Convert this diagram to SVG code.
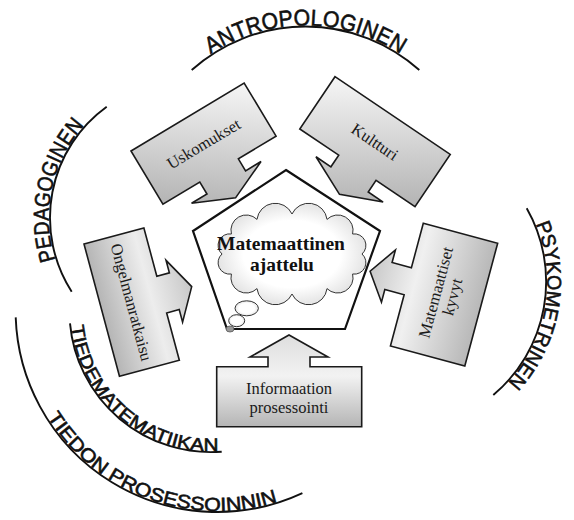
<svg xmlns="http://www.w3.org/2000/svg" xmlns:xlink="http://www.w3.org/1999/xlink" width="574" height="520" viewBox="0 0 574 520">
<defs>
<style>
.shape{stroke:#1a1a1a;stroke-width:1.6;stroke-linejoin:miter}
.lbl{font-family:"Liberation Serif","Times New Roman",serif;font-size:16.5px;fill:#1a1a1a;text-anchor:middle}
.arc{fill:none;stroke:#111;stroke-width:1.9}
.arctxt{font-family:"Liberation Sans",Arial,sans-serif;fill:#111;stroke:#111;stroke-width:0.6}
.bub{fill:url(#gC);stroke:#333;stroke-width:1}
.ctr{font-family:"Liberation Serif","Times New Roman",serif;font-weight:bold;font-size:19.5px;text-anchor:middle;fill:#111}
</style>
<linearGradient id="gU" x1="1" y1="0" x2="0" y2="1"><stop offset="0" stop-color="#f6f6f6"/><stop offset="1" stop-color="#a6a6a6"/></linearGradient>
<linearGradient id="gK" x1="0" y1="0" x2="1" y2="1"><stop offset="0" stop-color="#f6f6f6"/><stop offset="1" stop-color="#a6a6a6"/></linearGradient>
<linearGradient id="gO" x1="0" y1="0" x2="1" y2="0"><stop offset="0" stop-color="#b5b5b5"/><stop offset="0.55" stop-color="#ededed"/><stop offset="1" stop-color="#c8c8c8"/></linearGradient>
<linearGradient id="gM" x1="0" y1="0" x2="1" y2="0"><stop offset="0" stop-color="#c8c8c8"/><stop offset="0.4" stop-color="#f0f0f0"/><stop offset="1" stop-color="#b8b8b8"/></linearGradient>
<linearGradient id="gI" x1="0" y1="0" x2="0" y2="1"><stop offset="0" stop-color="#dedede"/><stop offset="0.45" stop-color="#f2f2f2"/><stop offset="1" stop-color="#b5b5b5"/></linearGradient>
<radialGradient id="gC" cx="0.5" cy="0.5" r="0.6"><stop offset="0.55" stop-color="#ffffff"/><stop offset="1" stop-color="#d6d6d6"/></radialGradient>
</defs>

<g id="arcs">
<path id="pAntro" class="arc" d="M191.7,70 A170.6,170.6 0 0 1 419.3,70"/>
<path id="pPed" class="arc" d="M71.7,291.7 A137,137 0 0 1 106.7,106.7"/>
<path id="pPsy" class="arc" d="M526.7,208.3 A148,148 0 0 1 493.3,395"/>
<path id="pTiede" class="arc" d="M70,323.3 A141.3,141.3 0 0 0 221.7,451.7"/>
<path id="pTiedon" class="arc" d="M15.7,317.4 A201.6,201.6 0 0 0 302.4,493.1"/>
</g>

<g id="arc-labels" class="arctxt">
<text font-size="23" dy="-1"><textPath xlink:href="#pAntro" href="#pAntro" startOffset="24.5" textLength="200" lengthAdjust="spacingAndGlyphs">ANTROPOLOGINEN</textPath></text>
<text font-size="22" dy="-1"><textPath xlink:href="#pPed" href="#pPed" startOffset="35.5" textLength="143" lengthAdjust="spacingAndGlyphs">PEDAGOGINEN</textPath></text>
<text font-size="20" dy="-1"><textPath xlink:href="#pPsy" href="#pPsy" startOffset="18" textLength="169" lengthAdjust="spacingAndGlyphs">PSYKOMETRINEN</textPath></text>
<text font-size="18" dy="-1"><textPath xlink:href="#pTiede" href="#pTiede" startOffset="3" textLength="214" lengthAdjust="spacingAndGlyphs">TIEDEMATEMATIIKAN</textPath></text>
<text font-size="19" dy="-1"><textPath xlink:href="#pTiedon" href="#pTiedon" startOffset="106" textLength="265" lengthAdjust="spacingAndGlyphs">TIEDON PROSESSOINNIN</textPath></text>
</g>

<g id="center">
<polygon points="286,170 380,231 345,329 227,329 193,231" fill="#fff" stroke="#111" stroke-width="2.2"/>
<path class="bub" d="M362,254 A11.5,11.5 0 0 1 352.6,274 A15.3,15.3 0 0 1 327,288.6 A18.4,18.4 0 0 1 292,294 A18.4,18.4 0 0 1 257,288.6 A15.3,15.3 0 0 1 231.4,274 A11.5,11.5 0 0 1 222,254 A11.5,11.5 0 0 1 231.4,234 A15.3,15.3 0 0 1 257,219.4 A18.4,18.4 0 0 1 292,214 A18.4,18.4 0 0 1 327,219.4 A15.3,15.3 0 0 1 352.6,234 A11.5,11.5 0 0 1 362,254 Z"/>
<ellipse class="bub" cx="246.7" cy="308.3" rx="11.7" ry="7.5"/>
<ellipse class="bub" cx="236.7" cy="320.7" rx="8" ry="6"/>
<ellipse cx="230" cy="329" rx="4" ry="3" fill="#999" stroke="#555" stroke-width="0.8"/>
<text class="ctr" x="281" y="250">Matemaattinen</text>
<text class="ctr" x="282" y="271">ajattelu</text>
</g>

<g id="uskomukset" transform="translate(131,151) rotate(-31)">
<path class="shape" fill="url(#gU)" d="M0,0 H132 V62 H88 V76 H106 L65.5,94 L25,76 H43 V62 H0 Z"/>
<text class="lbl" x="66" y="31" dy="0.35em">Uskomukset</text>
</g>

<g id="kultturi" transform="translate(335,76.7) rotate(34)">
<path class="shape" fill="url(#gK)" d="M0,0 H139 V63 H92 V77 H110 L69.5,95 L29,77 H47 V63 H0 Z"/>
<text class="lbl" x="69.5" y="31.5" dy="0.35em">Kultturi</text>
</g>

<g id="ongelmanratkaisu" transform="translate(84,244) rotate(-15)">
<path class="shape" fill="url(#gO)" d="M0,0 H62 V50 H75 V37 L93,69 L75,101 V88 H62 V137 H0 Z"/>
<text class="lbl" transform="translate(31,68.5) rotate(90)" dy="0.35em">Ongelmanratkaisu</text>
</g>

<g id="matemaattiset-kyvyt" transform="translate(423.3,223.3) rotate(15)">
<path class="shape" fill="url(#gM)" d="M0,0 H77 V127 H0 V74 H-20 V87 L-39,60 L-20,33 V46 H0 Z"/>
<text class="lbl" transform="translate(38.5,63.5) rotate(-90)"><tspan x="0" y="-3">Matemaattiset</tspan><tspan x="0" y="14">kyvyt</tspan></text>
</g>

<g id="informaation-prosessointi">
<path class="shape" fill="url(#gI)" d="M216.7,366.7 H268 V357 H250 L289,335 L328,357 H310 V366.7 H361.7 V426.7 H216.7 Z"/>
<text class="lbl" x="289" y="394">Informaation</text>
<text class="lbl" x="289" y="413">prosessointi</text>
</g>
</svg>
